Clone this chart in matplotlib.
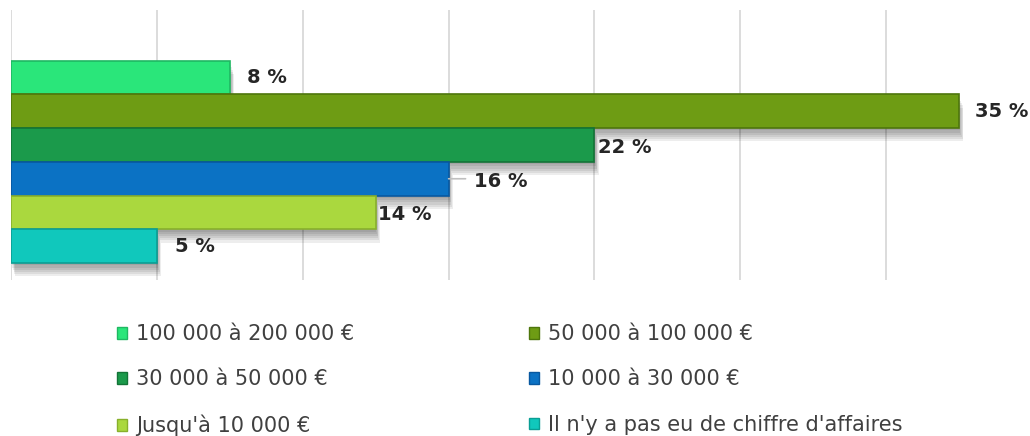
import numpy as np
import matplotlib.pyplot as plt
from matplotlib.patches import Patch
from matplotlib.transforms import ScaledTranslation

# ----------------------------------------------------------------------
# Data (percent of respondents, one bar per revenue bracket)
# ----------------------------------------------------------------------
categories = ["100 000 à 200 000 €", "50 000 à 100 000 €", "30 000 à 50 000 €",
              "10 000 à 30 000 €", "Jusqu'à 10 000 €",
              "Il n'y a pas eu de chiffre d'affaires"]
values = [8.1, 35.1, 21.6, 16.2, 13.5, 5.4]
value_labels = ["8 %", "35 %", "22 %", "16 %", "14 %", "5 %"]

# styles
colors = ["#2AE67A", "#6E9C14", "#1B9A4B", "#0B72C4", "#AAD83E", "#10C8BC"]
edges = ["#1FB862", "#4E760C", "#137437", "#0858A0", "#88B02C", "#0A9E94"]
label_dx = [17, 16, 4, 25, 2, 18]     # label offset from bar end, px
label_dy = [0, 0, -2, -3, -2, 0]
grid_step = 5.4

fig = plt.figure(figsize=(10.30, 4.36), dpi=100)
ax = fig.add_axes([11 / 1030, 1 - 280 / 436, 1021 / 1030, 270 / 436])

ypos = np.arange(len(values))

# soft drop shadow (several shifted grey layers)
for k in range(1, 7):
    tr = ax.transData + ScaledTranslation(k * 0.5 / 72, -k * 1.6 / 72, fig.dpi_scale_trans)
    ax.barh(ypos, values, height=1.0, color="#000000", alpha=0.07,
            linewidth=0, transform=tr, zorder=1)

# bars
ax.barh(ypos, values, height=1.0, color=colors, edgecolor=edges,
        linewidth=1.2, zorder=3)

# value labels
for i, (v, lab) in enumerate(zip(values, value_labels)):
    if i == 3:
        # leader line for the moved label
        ax.annotate("", xy=(v, i), xytext=(label_dx[i] - 8, 0),
                    textcoords="offset pixels",
                    arrowprops=dict(arrowstyle="-", color="#BFBFBF", lw=1.2,
                                    shrinkA=0, shrinkB=0), zorder=5)
    ax.annotate(lab, xy=(v, i), xytext=(label_dx[i], label_dy[i]),
                textcoords="offset pixels", ha="left", va="center",
                fontsize=14, fontweight="bold", color="#262626", zorder=6)

ax.set_xlim(0, grid_step * 7)
ax.set_ylim(6.0, -2.0)
ax.set_xticks(np.arange(0, 7) * grid_step)
ax.set_yticks([])
ax.tick_params(axis="x", length=0, labelbottom=False)
ax.grid(axis="x", color="#D9D9D9", linewidth=1.3, zorder=0)
ax.set_axisbelow(True)
for s in ax.spines.values():
    s.set_visible(False)

# legend, row-major order across two columns
order = [0, 2, 4, 1, 3, 5]
handles = [Patch(facecolor=colors[i], edgecolor=edges[i], linewidth=1.0,
                 label=categories[i]) for i in order]
fig.legend(handles=handles, ncol=2, loc="upper left", frameon=False,
           bbox_to_anchor=(117 / 1030, 1 - 324 / 436), borderpad=0,
           borderaxespad=0, fontsize=15, handlelength=0.5, handleheight=0.5,
           handletextpad=0.4, columnspacing=8.4, labelspacing=1.22,
           labelcolor="#404040")

plt.savefig("out.png", dpi=100)
